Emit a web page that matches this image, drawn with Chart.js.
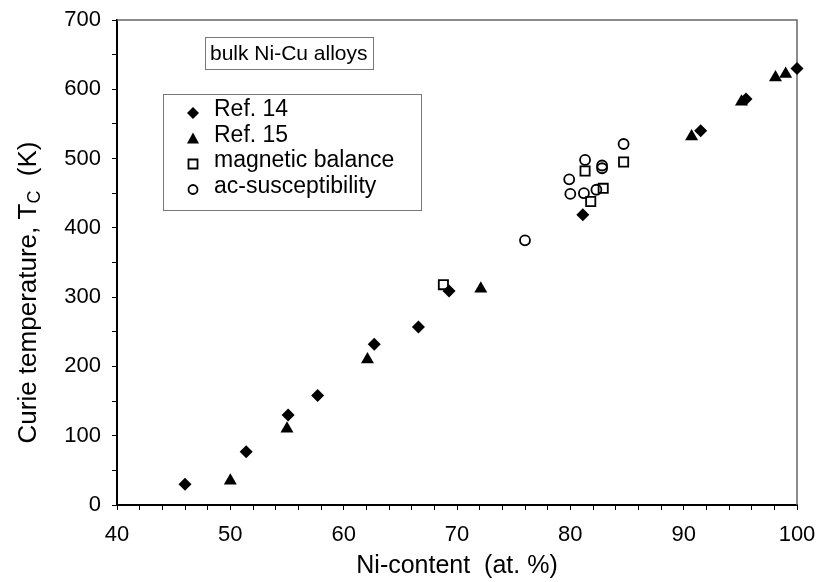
<!DOCTYPE html>
<html>
<head>
<meta charset="utf-8">
<script src="https://cdn.jsdelivr.net/npm/chart.js@4.4.1/dist/chart.umd.min.js"></script>
<style>
  html, body { margin: 0; padding: 0; background: #fff; }
  #chart { display: block; }
</style>
</head>
<body>
<canvas id="chart" width="820" height="582"></canvas>
<script>
// data (Ni content in at.%, Tc in K)
const ref14X = [46.0, 51.4, 55.1, 57.7, 62.7, 66.6, 69.3, 81.1, 91.5, 95.5, 100.0];
const ref14Y = [30, 77, 130, 158, 232, 257, 309, 419, 540, 586, 630];

const ref15X = [50.0, 55.0, 62.1, 72.1, 90.7, 95.1, 98.1, 99.0];
const ref15Y = [35, 110, 210, 312, 532, 582, 617, 622];

const balanceX = [68.8, 81.3, 81.8, 82.9, 84.7];
const balanceY = [318, 482, 438, 457, 495];

const acSuscX = [76.0, 79.9, 80.0, 81.3, 81.2, 82.3, 82.8, 82.8, 84.7];
const acSuscY = [382, 470, 449, 498, 450, 455, 490, 486, 521];

const seriesNames = ['Ref. 14', 'Ref. 15', 'magnetic balance', 'ac-susceptibility'];
const xTickLabels = [40, 50, 60, 70, 80, 90, 100];
const yTickLabels = [0, 100, 200, 300, 400, 500, 600, 700];

const FONT = '"Liberation Sans", Arial, sans-serif';

function toPoints(xs, ys) {
  return xs.map((x, i) => ({ x: x, y: ys[i] }));
}

// frame: grey top/right edges of the plot box
const frame = {
  id: 'frame',
  beforeDatasetsDraw(chart) {
    const { ctx, chartArea: a } = chart;
    ctx.save();
    ctx.strokeStyle = '#666';
    ctx.lineWidth = 1.5;
    ctx.beginPath();
    ctx.moveTo(a.left, a.top);
    ctx.lineTo(a.right, a.top);
    ctx.lineTo(a.right, a.bottom);
    ctx.stroke();
    ctx.restore();
  }
};

// y title with a subscript C
const yTitle = {
  id: 'yTitle',
  afterDraw(chart) {
    const { ctx, chartArea } = chart;
    const big = '26px ' + FONT;
    const small = '18px ' + FONT;
    const p1 = 'Curie temperature, T', p2 = 'C', p3 = '  (K)';
    ctx.save();
    ctx.translate(29, (chartArea.top + chartArea.bottom) / 2 + 30);
    ctx.rotate(-Math.PI / 2);
    ctx.fillStyle = '#000';
    ctx.textBaseline = 'middle';
    ctx.font = big;
    const w1 = ctx.measureText(p1).width;
    const w3 = ctx.measureText(p3).width;
    ctx.font = small;
    const w2 = ctx.measureText(p2).width;
    let x = -(w1 + w2 + w3) / 2;
    ctx.font = big;
    ctx.fillText(p1, x, 0);
    x += w1;
    ctx.font = small;
    ctx.fillText(p2, x, 6);
    x += w2;
    ctx.font = big;
    ctx.fillText(p3, x, 0);
    ctx.restore();
  }
};

function drawMarker(ctx, type, x, y) {
  ctx.beginPath();
  if (type === 'diamond') {
    ctx.moveTo(x, y - 6); ctx.lineTo(x + 6, y); ctx.lineTo(x, y + 6); ctx.lineTo(x - 6, y);
    ctx.closePath(); ctx.fill();
  } else if (type === 'triangle') {
    ctx.moveTo(x, y - 6); ctx.lineTo(x + 6, y + 5); ctx.lineTo(x - 6, y + 5);
    ctx.closePath(); ctx.fill();
  } else if (type === 'square') {
    ctx.rect(x - 4.5, y - 4.5, 9, 9); ctx.stroke();
  } else {
    ctx.arc(x, y, 4.5, 0, Math.PI * 2); ctx.stroke();
  }
}

// boxed note and legend inside the plot
const notes = {
  id: 'notes',
  afterDraw(chart) {
    const { ctx, chartArea: a } = chart;
    ctx.save();
    ctx.strokeStyle = '#777';
    ctx.lineWidth = 1;
    ctx.strokeRect(a.left + 88.5, a.top + 17.5, 168, 32);
    ctx.fillStyle = '#000';
    ctx.font = '21px ' + FONT;
    ctx.textBaseline = 'middle';
    ctx.fillText('bulk Ni-Cu alloys', a.left + 93, a.top + 34);

    ctx.strokeRect(a.left + 46.5, a.top + 74.5, 258, 116);
    const types = ['diamond', 'triangle', 'square', 'circle'];
    ctx.font = '23px ' + FONT;
    ctx.lineWidth = 1.8;
    ctx.strokeStyle = '#000';
    seriesNames.forEach((name, i) => {
      const y = a.top + 90 + i * 25.5;
      drawMarker(ctx, types[i], a.left + 76, y + 3);
      ctx.fillText(name, a.left + 97, y);
    });
    ctx.restore();
  }
};

new Chart(document.getElementById('chart'), {
  type: 'scatter',
  data: {
    datasets: [
      {
        label: seriesNames[0],
        data: toPoints(ref14X, ref14Y),
        pointStyle: 'rectRot',
        pointRadius: 6.5,
        backgroundColor: '#000',
        borderColor: '#000',
        borderWidth: 0,
        clip: false
      },
      {
        label: seriesNames[1],
        data: toPoints(ref15X, ref15Y),
        pointStyle: 'triangle',
        pointRadius: 7.5,
        backgroundColor: '#000',
        borderColor: '#000',
        borderWidth: 0,
        clip: false
      },
      {
        label: seriesNames[2],
        data: toPoints(balanceX, balanceY),
        pointStyle: 'rect',
        pointRadius: 6.5,
        backgroundColor: 'rgba(0,0,0,0)',
        borderColor: '#000',
        borderWidth: 1.8,
        clip: false
      },
      {
        label: seriesNames[3],
        data: toPoints(acSuscX, acSuscY),
        pointStyle: 'circle',
        pointRadius: 5,
        backgroundColor: 'rgba(0,0,0,0)',
        borderColor: '#000',
        borderWidth: 1.8,
        clip: false
      }
    ]
  },
  options: {
    responsive: false,
    animation: false,
    layout: { padding: { left: 0, right: 23, top: 20, bottom: 0 } },
    plugins: {
      legend: { display: false },
      tooltip: { enabled: false }
    },
    scales: {
      x: {
        type: 'linear',
        min: 40,
        max: 100,
        afterFit: (scale) => {
          scale.height = 77;
          scale.paddingLeft = 0;
          scale.paddingRight = 0;
        },
        border: { color: '#000', width: 2 },
        grid: { display: true, drawOnChartArea: false, tickLength: 5, tickColor: '#000', tickWidth: 1 },
        ticks: {
          stepSize: 2,
          autoSkip: false,
          maxRotation: 0,
          padding: 12,
          color: '#000',
          font: { family: FONT, size: 22 },
          callback: (v) => (xTickLabels.includes(v) ? String(v) : '')
        },
        title: {
          display: true,
          text: 'Ni-content  (at. %)',
          color: '#000',
          font: { family: FONT, size: 25 },
          padding: { top: 0, bottom: 1 }
        }
      },
      y: {
        type: 'linear',
        min: 0,
        max: 700,
        afterFit: (scale) => {
          scale.width = 117;
          scale.paddingTop = 0;
          scale.paddingBottom = 0;
        },
        border: { color: '#000', width: 2 },
        grid: { display: true, drawOnChartArea: false, tickLength: 5, tickColor: '#000', tickWidth: 1 },
        ticks: {
          stepSize: 50,
          autoSkip: false,
          padding: 11,
          color: '#000',
          font: { family: FONT, size: 22 },
          callback: (v) => (yTickLabels.includes(v) ? String(v) : '')
        }
      }
    }
  },
  plugins: [frame, yTitle, notes]
});
</script>
</body>
</html>
